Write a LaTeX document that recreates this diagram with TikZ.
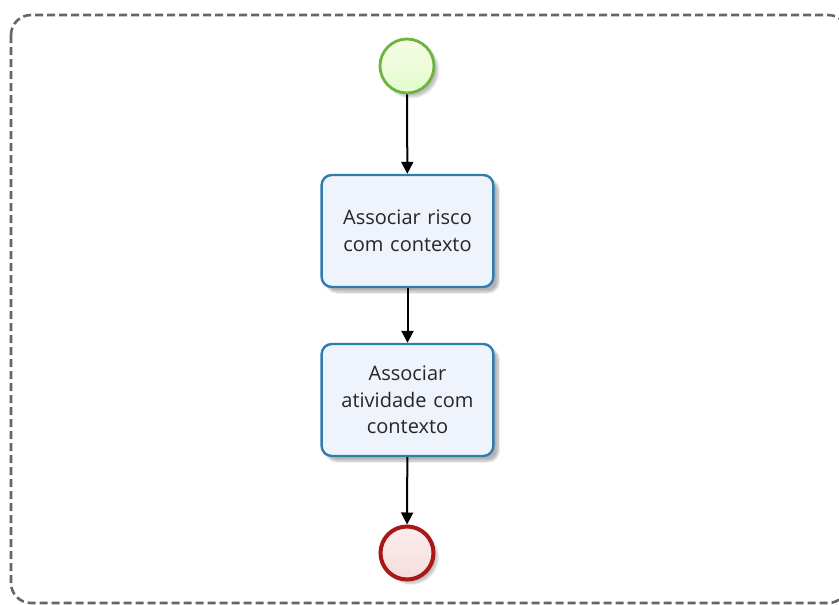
\documentclass[tikz,border=0pt]{standalone}
\usepackage{fontspec}
\setmainfont{Open Sans}
\usetikzlibrary{arrows.meta,shadows.blur}
\definecolor{lanecol}{HTML}{666666}
\definecolor{startline}{HTML}{6DB33F}
\definecolor{startfill}{HTML}{F3FBD8}
\definecolor{endline}{HTML}{A81818}
\definecolor{endfill}{HTML}{F6DCDC}
\definecolor{taskline}{HTML}{2E7DAF}
\definecolor{taskfill}{HTML}{EFF3FB}
\tikzset{
  lane/.style={draw=lanecol, line width=2.6pt, dash pattern=on 8pt off 4pt, rounded corners=20pt},
  startev/.style={circle, draw=startline, line width=2.8pt, inner sep=0pt, minimum size=54pt,
    top color=startfill!70!white, bottom color=startfill!90!green!80!white,
    blur shadow={shadow xshift=4pt, shadow yshift=-4pt, shadow blur steps=6, shadow opacity=25}},
  endev/.style={circle, draw=endline, line width=4pt, inner sep=0pt, minimum size=53pt,
    top color=endfill!50!white, bottom color=endfill,
    blur shadow={shadow xshift=4pt, shadow yshift=-4pt, shadow blur steps=6, shadow opacity=25}},
  task/.style={draw=taskline, line width=2.4pt, rounded corners=10pt, fill=taskfill,
    minimum width=171pt, minimum height=112pt, align=center, text width=165pt,
    font=\fontsize{20pt}{26.5pt}\selectfont, text=black!85,
    blur shadow={shadow xshift=5pt, shadow yshift=-5pt, shadow blur steps=8, shadow opacity=30}},
  flow/.style={line width=2pt, -{Triangle[width=12pt,length=12pt]}},
}
\begin{document}
\begin{tikzpicture}[x=1pt,y=-1pt]
  \useasboundingbox (0,0) rectangle (839,605);
  % dashed pool border, running off the right edge
  \begin{scope}
    \clip (0,0) rectangle (839,605);
    \draw[lane] (11,15) rectangle (848,603);
  \end{scope}
  \node[startev] (start) at (407,66) {};
  \node[task] (t1) at (407.5,231) {Associar risco\\com contexto};
  \node[task] (t2) at (407.5,400) {Associar\\atividade com\\contexto};
  \node[endev] (end) at (407,553) {};
  \draw[flow] (start) -- (t1);
  \draw[flow] (t1) -- (t2);
  \draw[flow] (t2) -- (end);
\end{tikzpicture}
\end{document}
